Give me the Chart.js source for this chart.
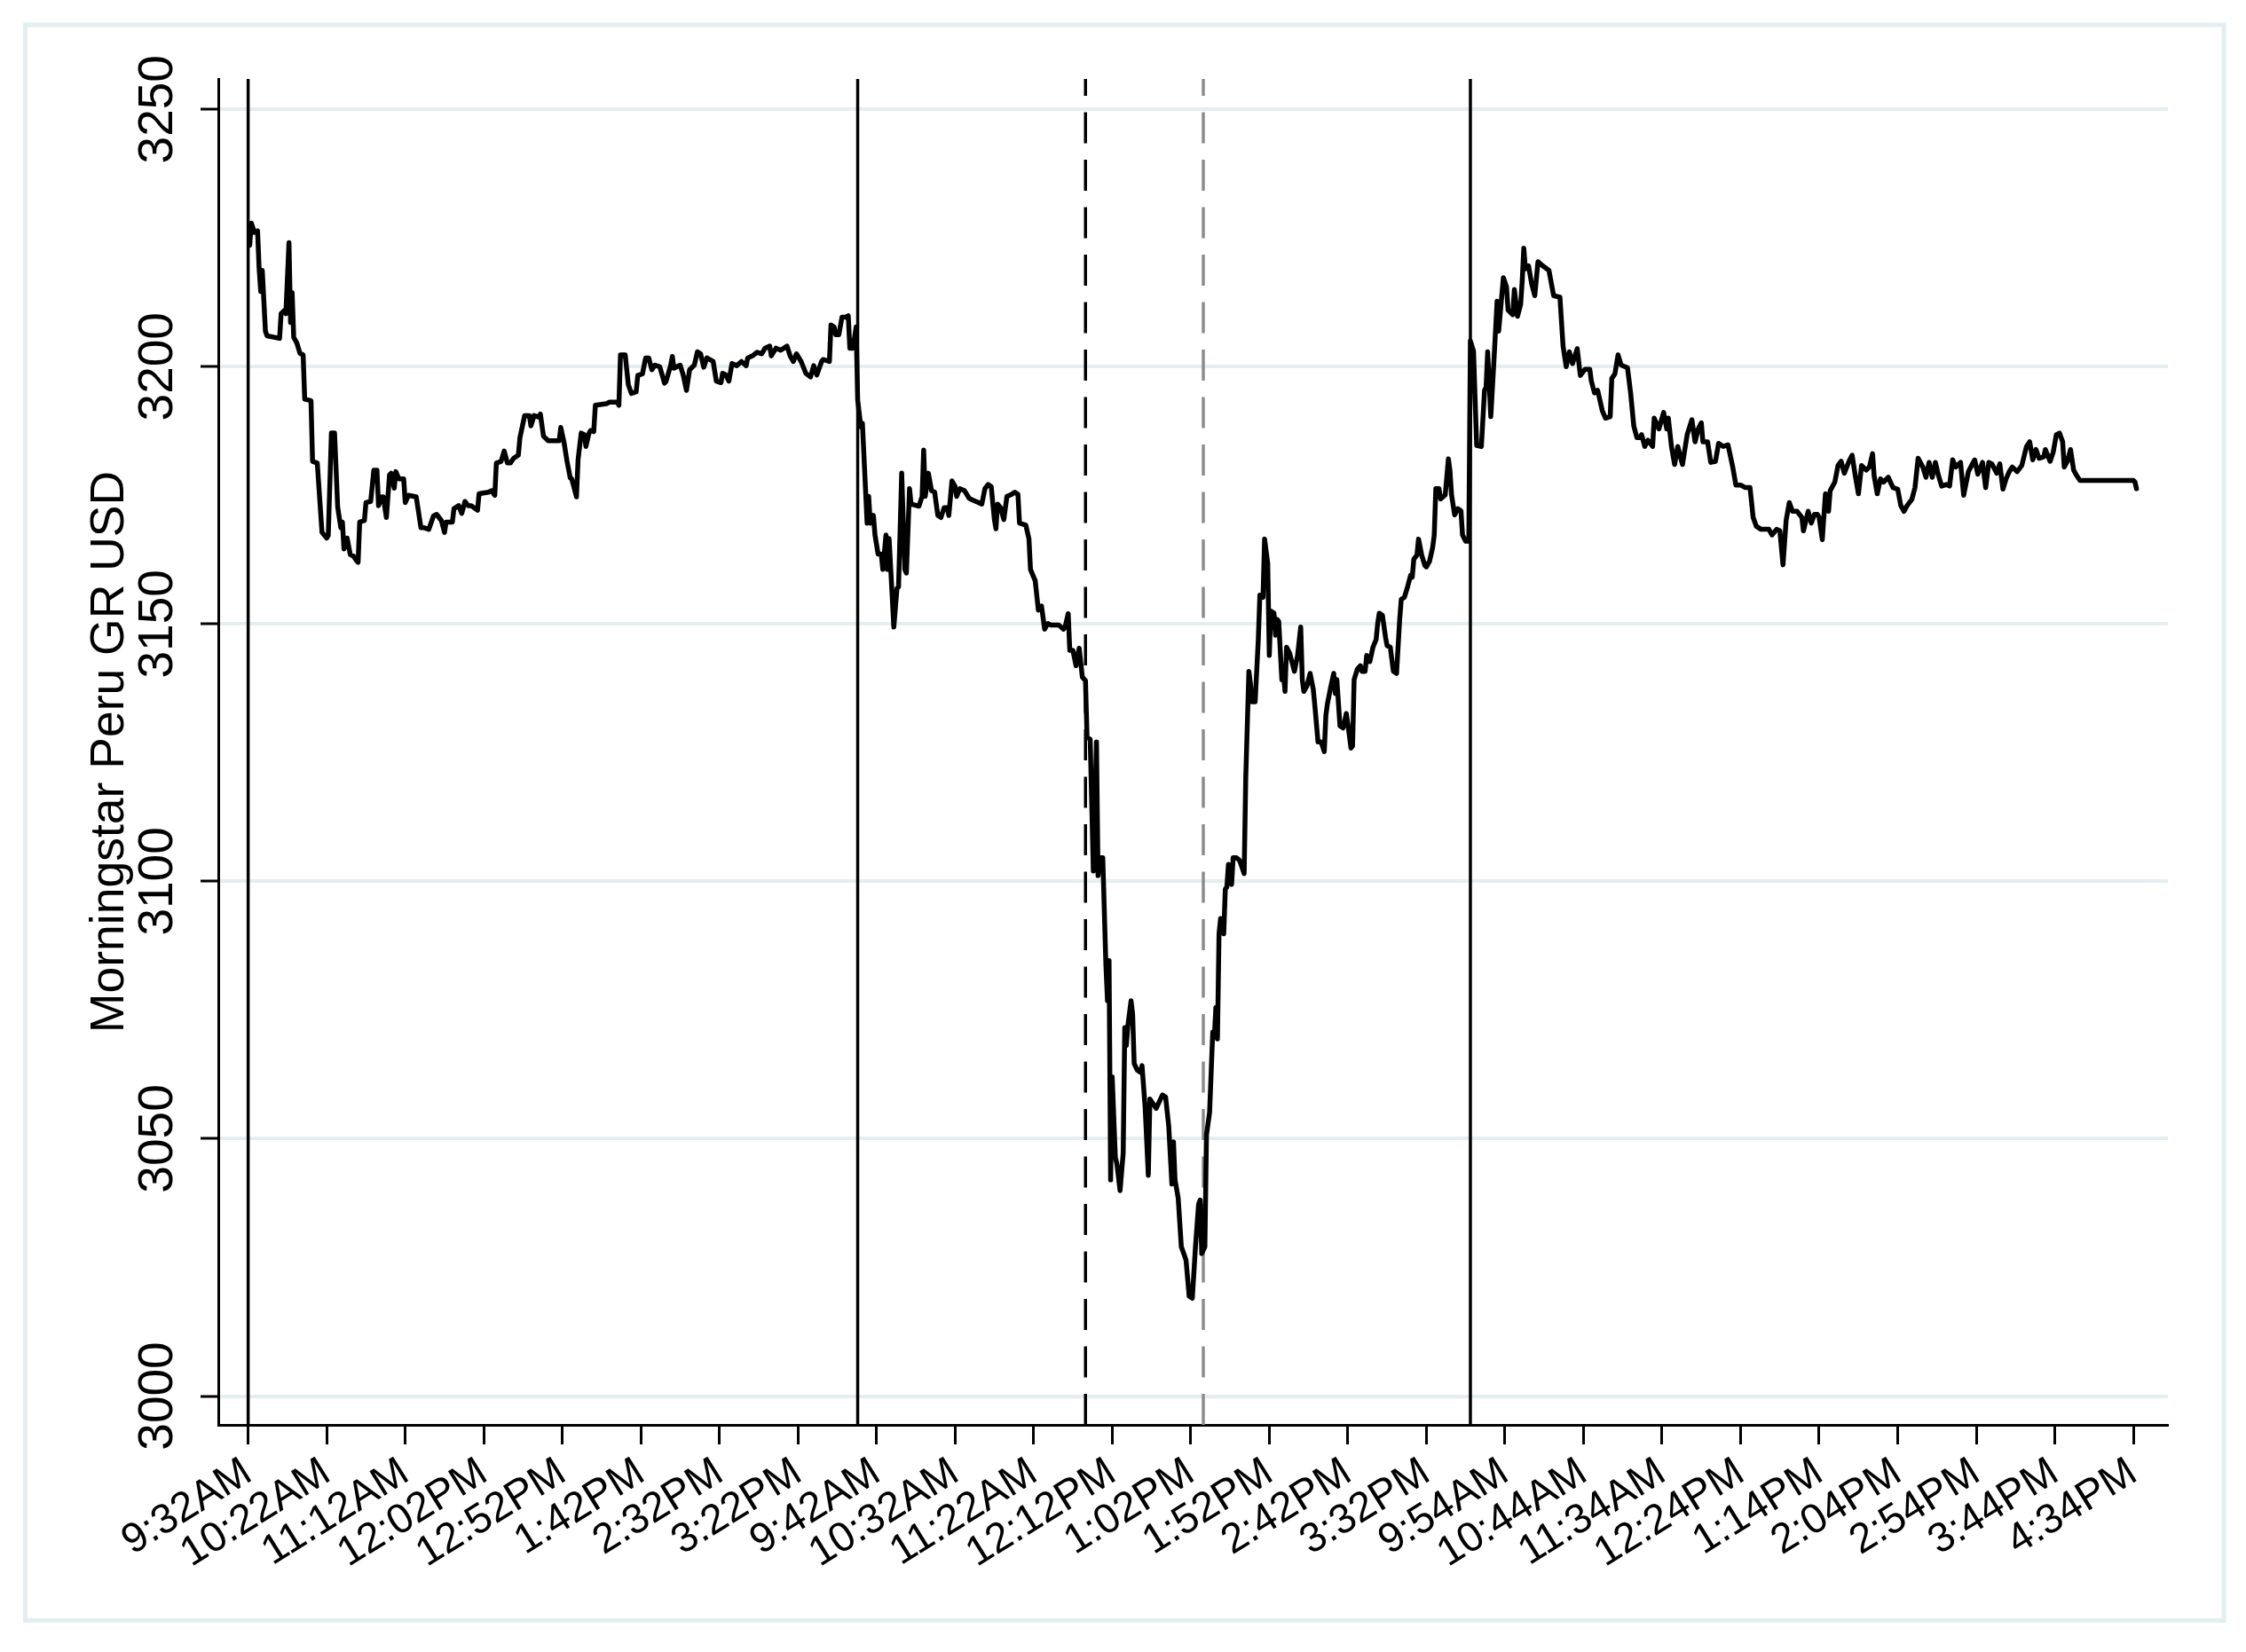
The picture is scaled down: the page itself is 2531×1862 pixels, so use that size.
<!DOCTYPE html>
<html>
<head>
<meta charset="utf-8">
<script src="https://cdn.jsdelivr.net/npm/chart.js@4.4.1/dist/chart.umd.min.js"></script>
<style>
  html, body { margin: 0; padding: 0; background: #fff; }
  #wrap { width: 2531px; height: 1862px; }
</style>
</head>
<body>
<div id="wrap"><canvas id="chart" width="2531" height="1862"></canvas></div>
<script>
// x axis is a running trading-minute index over three sessions
const tickMinutes = [0, 50, 100, 150, 200, 250, 300, 350, 400, 450, 500, 550, 600,
  650, 700, 750, 800, 850, 900, 950, 1000, 1050, 1100, 1150, 1200];
const tickLabels = ['9:32AM', '10:22AM', '11:12AM', '12:02PM', '12:52PM', '1:42PM', '2:32PM', '3:22PM',
  '9:42AM', '10:32AM', '11:22AM', '12:12PM', '1:02PM', '1:52PM', '2:42PM', '3:32PM',
  '9:54AM', '10:44AM', '11:34AM', '12:24PM', '1:14PM', '2:04PM', '2:54PM', '3:44PM', '4:34PM'];
const yTicks = [3000, 3050, 3100, 3150, 3200, 3250];

// vertical markers
const dayStartMinutes = [0, 388, 778];
const eventMinutes = [533];      // black dashed
const afterEventMinutes = [608]; // grey dashed

// [minute index, index level]
const day1 = [
  [1,3223.6],[2,3227.9],[4,3226.1],[6,3226.4],[7,3219],[8,3214.6],[9,3218.7],[11,3206.9],[12,3206],[20,3205.5],
  [21,3210.3],[23,3210.9],[24,3210.3],[26,3224.1],[27,3208.6],[28,3214.4],[29,3205.7],[31,3204.6],[33,3202.6],[35,3202.3],
  [36,3193.7],[40,3193.4],[41,3181.6],[44,3181.3],[47,3167.8],[50,3166.7],[51,3167.2],[53,3187.1],[55,3187.1],[57,3172.7],
  [59,3168.7],[60,3169.8],[61,3164.6],[63,3166.7],[65,3163.5],[67,3163.2],[69,3162.3],[70,3162],[71,3169.8],[74,3170.1],
  [75,3173.6],[78,3173.8],[80,3179.9],[82,3179.9],[83,3173],[85,3174.7],[86,3174.7],[88,3170.7],[90,3179],[91,3179.3],
  [93,3176.4],[94,3179.6],[96,3178.2],[99,3178.2],[100,3173.6],[102,3175],[107,3174.7],[110,3168.7],[112,3168.7],[115,3168.4],
  [118,3171],[120,3171.3],[123,3170.1],[125,3167.8],[126,3169.8],[130,3169.8],[131,3172.4],[134,3173],[136,3171.5],[138,3173.8],
  [140,3173],[142,3173],[146,3172.1],[147,3175.3],[153,3175.6],[155,3175.9],[157,3175],[158,3181.3],[161,3181.6],[163,3183.6],
  [165,3181.3],[167,3181.3],[169,3182.2],[172,3182.8],[173,3186.2],[176,3190.5],[179,3190.5],[180,3188.5],[182,3190.5],[185,3190.2],
  [186,3190.8],[188,3186.5],[191,3185.6],[198,3185.6],[199,3188.2],[201,3185.4],[203,3181.6],[205,3178.4],[206,3178.2],[209,3174.7],
  [210,3181.9],[212,3187.1],[214,3186.8],[215,3184.5],[217,3187.1],[218,3187.6],[220,3187.4],[221,3192.5],[228,3192.8],[230,3193.1],
  [235,3193.1],[236,3192.5],[237,3202.3],[240,3202.3],[242,3196.5],[244,3194.8],[247,3195.1],[248,3198.3],[251,3198.6],[253,3201.7],
  [255,3201.7],[257,3199.4],[259,3200.3],[262,3200],[265,3196.8],[266,3197.1],[269,3200.3],[270,3202],[271,3199.7],[275,3200.3],
  [277,3198.3],[279,3195.4],[281,3199.4],[284,3200.3],[286,3202.9],[288,3202.5],[290,3199.9],[292,3201.7],[296,3201],[298,3197.2],
  [301,3196.9],[302,3198.7],[304,3198.4],[306,3197.2],[308,3200.6],[311,3200.2],[314,3201],[317,3200.2],[318,3201.7],[321,3202.1],
  [324,3202.8],[327,3202.5],[329,3203.6],[332,3204],[333,3202.1],[336,3203.6],[339,3203.2],[343,3204],[345,3202.1],[347,3201],
  [349,3202.5],[352,3201],[355,3198.7],[358,3198],[360,3200.2],[362,3198.4],[365,3201],[366,3201.4],[370,3201],[371,3208.1],
  [373,3207.7],[374,3206.2],[376,3206.2],[378,3209.6],[380,3209.6],[382,3209.9],[383,3203.6],[385,3203.6],[387,3207.7]
];
const day2 = [
  [388,3193.5],[390,3188.3],[391,3189],[394,3169.6],[395,3174.8],[396,3169.6],[398,3171.1],[399,3167.3],[401,3163.6],[403,3163.6],
  [404,3160.6],[406,3167.3],[407,3160.6],[408,3166.6],[411,3149.4],[413,3156.9],[414,3157.2],[416,3179.3],[418,3160.6],[419,3159.9],
  [421,3176.3],[422,3173.3],[427,3172.9],[429,3174.8],[430,3183.8],[431,3174.8],[433,3179.3],[435,3175.9],[437,3175.6],[439,3171.1],
  [441,3170.7],[443,3172.6],[445,3172.6],[446,3171.1],[448,3177.8],[450,3176.7],[451,3174.8],[453,3176.3],[456,3175.9],[459,3174.4],
  [461,3174.1],[464,3173.7],[467,3173.3],[469,3176.3],[471,3177.1],[473,3176.7],[475,3170.3],[476,3168.5],[477,3173.3],[479,3172.6],
  [481,3170.3],[483,3174.8],[486,3175.2],[488,3175.6],[490,3175.2],[491,3169.6],[495,3169.2],[497,3166.6],[498,3160.6],[501,3158.4],
  [503,3152.7],[505,3153.5],[507,3149],[509,3150.1],[511,3149.8],[516,3149.8],[519,3149],[520,3149.4],[522,3152],[523,3144.9],
  [525,3144.9],[527,3141.9],[529,3145.3],[531,3139.7],[533,3139],[534,3128],[536,3127.6],[538,3102],[540,3127.1],[541,3101.1],
  [542,3104.6],[544,3104.6],[546,3083.7],[547,3076.8],[548,3084.6],[549,3042],[550,3062],[552,3046.4],[553,3045.1],[555,3039.9],
  [557,3047.2],[558,3071.6],[559,3068.1],[560,3072],[562,3076.8],[563,3074.2],[564,3064.6],[566,3063.3],[568,3062.9],[569,3064.2],
  [571,3055.9],[573,3042.9],[574,3057.7],[576,3056.8],[578,3055.9],[580,3057.2],[582,3058.5],[584,3058.1],[586,3052.4],[588,3041.2],
  [589,3049.4],[590,3042],[592,3038.5],[594,3029],[596,3027.3],[597,3026.4],[599,3019.4],[601,3019],[603,3029],[605,3037.3],
  [606,3038.1],[607,3027.7],[609,3029],[610,3050.7],[612,3055.1],[613,3062.9],[614,3070.7],[615,3069.8],[616,3075.5],[617,3069.4],
  [618,3089.8],[619,3092.8],[621,3089.8],[622,3098.5],[623,3098.9],[624,3103.3],[626,3099.4],[627,3104.6],[629,3104.6],[631,3104.1],
  [632,3103.3],[634,3101.5],[635,3120],[637,3140.8],[638,3138.4],[639,3134.9],[641,3134.9],[643,3147],[644,3155.6],[646,3155.2],
  [647,3166.5],[649,3161.8],[650,3143.9],[651,3152.5],[653,3152.1],[654,3147.8],[655,3150.9],[656,3150.5],[658,3139.2],[659,3140.4],
  [660,3136.9],[661,3145.5],[663,3144.3],[664,3143.1],[666,3140.8],[668,3143.9],[670,3149.4],[671,3139.2],[672,3136.9],[674,3138],
  [676,3140.4],[678,3137.3],[679,3134.1],[681,3127.1],[683,3127.1],[685,3125.2],[686,3132.2],[687,3134.5],[689,3137.6],[691,3140.4],
  [692,3136.5],[693,3139.2],[695,3130.2],[697,3129.8],[699,3132.6],[700,3130.6],[702,3125.9],[703,3126.3],[704,3139.2],[706,3141.2],
  [708,3141.9],[709,3140.8],[711,3140.8],[712,3143.9],[714,3142.7],[716,3145.5],[718,3147],[719,3150.1],[720,3152.1],[722,3151.7],
  [724,3147.4],[725,3145.8],[727,3145.5],[729,3140.8],[731,3140.4],[733,3150.9],[734,3154.8],[736,3155.2],[738,3157.2],[740,3159.5],
  [741,3159.1],[742,3162.6],[744,3163.4],[745,3166.5],[747,3163.4],[749,3161.4],[750,3161.1],[752,3162.2],[754,3164.9],[755,3167.3],
  [756,3176.3],[758,3176.3],[759,3174.3],[762,3175.1],[764,3182.1],[765,3179.8],[766,3175.1],[768,3171.2],[770,3172.4],[772,3172],
  [773,3167.3],[775,3166.1],[777,3166.1]
];
const day3 = [
  [778,3205],[780,3203],[782,3184.7],[785,3184.5],[787,3195.4],[788,3196],[789,3202.9],[791,3190.3],[793,3201.2],[795,3212.7],
  [796,3206.9],[799,3217.3],[801,3215.5],[802,3211],[805,3210.1],[806,3215],[808,3209.8],[810,3212.1],[811,3216.7],[812,3223],
  [813,3219],[815,3219.6],[817,3216.1],[819,3213.8],[821,3220.4],[824,3219.6],[828,3218.7],[831,3213.8],[835,3213.5],[837,3204],
  [839,3200],[841,3202.9],[843,3200.6],[846,3203.5],[848,3198.3],[851,3199.5],[854,3199.5],[855,3197.2],[857,3194.9],[859,3195.4],
  [862,3191.4],[864,3190],[867,3190.3],[868,3197.7],[870,3198.6],[872,3202.3],[874,3200.3],[878,3199.8],[880,3194.9],[882,3188.5],
  [884,3186.2],[886,3186.2],[887,3186.8],[889,3184.5],[891,3185.7],[894,3184.5],[895,3190],[898,3187.9],[901,3191.1],[903,3187.9],
  [904,3190],[906,3184.5],[908,3181],[910,3184.5],[913,3181],[916,3186.8],[919,3189.7],[921,3185.4],[923,3187.9],[925,3189.1],
  [926,3185.4],[929,3185.4],[931,3181.4],[934,3181.6],[936,3185.1],[939,3184.5],[942,3184.8],[945,3180.5],[947,3177],[950,3177],
  [953,3176.5],[956,3176.5],[958,3170.7],[960,3169],[963,3168.4],[968,3168.4],[970,3167.3],[973,3168.4],[975,3168.1],[977,3161.5],
  [979,3170.2],[981,3173.6],[983,3171.9],[986,3171.9],[989,3170.7],[990,3168.1],[993,3171.9],[995,3169.6],[997,3171.3],[999,3171.3],
  [1000,3170.7],[1002,3166.4],[1004,3175.3],[1006,3171.9],[1007,3175.9],[1010,3177.6],[1012,3180.8],[1014,3181.6],[1016,3179.3],[1019,3181.6],
  [1021,3182.8],[1023,3178.8],[1025,3175.3],[1027,3180.8],[1030,3179.9],[1032,3180.5],[1034,3183.1],[1035,3178.8],[1037,3175.3],[1039,3178.2],
  [1041,3177.6],[1044,3178.5],[1047,3176.5],[1050,3176.2],[1052,3173],[1054,3171.9],[1056,3173],[1059,3174.2],[1061,3176.5],[1063,3182.2],
  [1066,3180.5],[1068,3178.5],[1070,3181.4],[1072,3178.5],[1074,3181.4],[1076,3178.8],[1078,3176.8],[1081,3177.1],[1083,3176.8],[1085,3181.9],
  [1087,3180.5],[1090,3181.4],[1092,3175],[1095,3179.6],[1097,3180.8],[1099,3181.9],[1101,3179.1],[1104,3181.4],[1106,3176.5],[1108,3181.4],
  [1110,3181.1],[1113,3179.3],[1115,3181.1],[1117,3176.2],[1119,3178.2],[1121,3179.6],[1123,3180.5],[1126,3179.6],[1129,3180.8],[1132,3184.5],
  [1134,3185.4],[1136,3181.9],[1138,3183.9],[1140,3182.2],[1143,3182.5],[1144,3183.9],[1147,3181.6],[1149,3183.4],[1151,3186.8],[1153,3187.1],
  [1155,3185.4],[1156,3180.5],[1158,3181.6],[1160,3183.9],[1162,3179.9],[1164,3178.8],[1166,3177.9],[1200,3177.9],[1201,3177.6],[1202,3176.3]
];

const X_MIN = -19, X_MAX = 1222;
const Y_MIN = 2994.4, Y_MAX = 3255.9;
const FONT = '"Liberation Sans", Arial, Helvetica, sans-serif';
const GRID = '#e4eef1';

const series = [...day1, ...day2, ...day3].map(([x, y]) => ({ x, y }));

// a vertical marker spanning the whole y range (drawn bottom -> top so dashes start at the axis)
function marker(minute, color, width, dash) {
  return {
    data: [{ x: minute, y: Y_MIN }, { x: minute, y: Y_MAX }],
    borderColor: color,
    borderWidth: width,
    borderDash: dash,
    pointRadius: 0,
    order: 2
  };
}

// outer graph-region frame, like Stata's s2color scheme
const framePlugin = {
  id: 'frame',
  beforeDraw(chart) {
    const ctx = chart.ctx;
    ctx.save();
    ctx.fillStyle = '#fff';
    ctx.fillRect(0, 0, chart.width, chart.height);
    ctx.strokeStyle = GRID;
    ctx.lineWidth = 5;
    ctx.strokeRect(28.5, 28, 2477.5, 1798.5);
    ctx.restore();
  }
};

new Chart(document.getElementById('chart').getContext('2d'), {
  type: 'line',
  data: {
    datasets: [
      {
        data: series,
        borderColor: '#000',
        borderWidth: 5.5,
        borderJoinStyle: 'round',
        borderCapStyle: 'round',
        pointRadius: 0,
        tension: 0,
        order: 0
      },
      ...dayStartMinutes.map(m => marker(m, '#000', 3.5, [])),
      ...eventMinutes.map(m => marker(m, '#000', 3.5, [35, 18.5])),
      ...afterEventMinutes.map(m => marker(m, '#8c8c8c', 3.5, [35, 18.5]))
    ]
  },
  options: {
    responsive: false,
    animation: false,
    devicePixelRatio: 1,
    layout: { padding: { left: 0, top: 89, right: 88, bottom: 0 } },
    plugins: {
      legend: { display: false },
      tooltip: { enabled: false }
    },
    scales: {
      x: {
        type: 'linear',
        min: X_MIN,
        max: X_MAX,
        afterBuildTicks: s => { s.ticks = tickMinutes.map(v => ({ value: v })); },
        afterFit: s => { s.height = 256; },
        grid: { drawOnChartArea: false, drawTicks: true, tickLength: 22, tickColor: '#000', tickWidth: 3 },
        border: { color: '#000', width: 3 },
        ticks: {
          autoSkip: false,
          minRotation: 32,
          maxRotation: 32,
          padding: 4,
          color: '#000',
          font: { family: FONT, size: 47 },
          callback: v => tickLabels[tickMinutes.indexOf(v)]
        }
      },
      y: {
        min: Y_MIN,
        max: Y_MAX,
        afterBuildTicks: s => { s.ticks = yTicks.map(v => ({ value: v })); },
        afterFit: s => { s.width = 246; },
        grid: { color: GRID, lineWidth: 4, tickColor: '#000', tickWidth: 3, tickLength: 20 },
        border: { color: '#000', width: 3 },
        ticks: {
          minRotation: 90,
          maxRotation: 90,
          crossAlign: 'center',
          padding: -14,
          color: '#000',
          font: { family: FONT, size: 55 },
          callback: v => String(v)
        },
        title: {
          display: true,
          text: 'Morningstar Peru GR USD',
          color: '#000',
          font: { family: FONT, size: 53.5 },
          padding: { top: 92, bottom: 0 }
        }
      }
    }
  },
  plugins: [framePlugin]
});
</script>
</body>
</html>
